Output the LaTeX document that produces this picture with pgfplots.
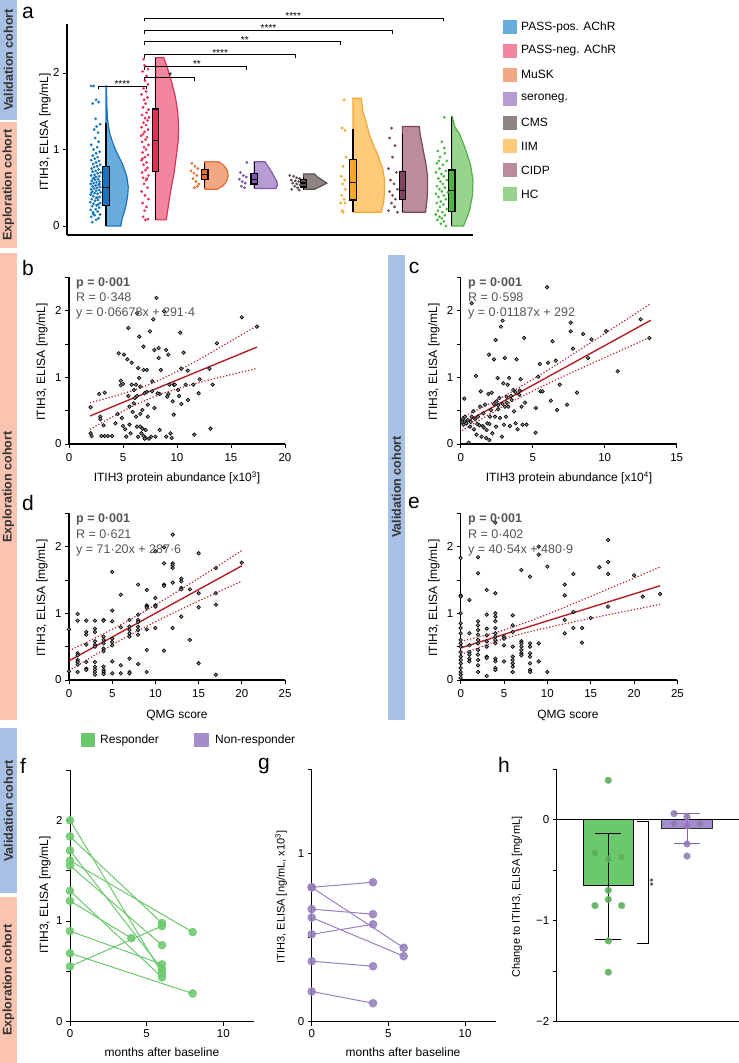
\documentclass[border=0pt]{standalone}
\usepackage{fontspec}
\setmainfont{Liberation Sans}
\usepackage{pgfplots}
\pgfplotsset{compat=1.18}
\usepgfplotslibrary{statistics}
\newcommand{\fs}[1]{\fontsize{#1}{#1}\selectfont}
\definecolor{vblue}{RGB}{168,192,228}
\definecolor{eorange}{RGB}{250,196,176}
\definecolor{c1f}{RGB}{104,172,222}\definecolor{c1d}{RGB}{25,118,190}
\definecolor{c2f}{RGB}{242,134,158}\definecolor{c2d}{RGB}{228,48,88}
\definecolor{c3f}{RGB}{242,168,132}\definecolor{c3d}{RGB}{232,108,48}
\definecolor{c4f}{RGB}{182,156,210}\definecolor{c4d}{RGB}{128,88,178}
\definecolor{c5f}{RGB}{142,132,132}\definecolor{c5d}{RGB}{88,78,78}
\definecolor{c6f}{RGB}{255,202,122}\definecolor{c6d}{RGB}{245,168,40}
\definecolor{c7f}{RGB}{186,140,156}\definecolor{c7d}{RGB}{128,68,96}
\definecolor{c8f}{RGB}{152,212,142}\definecolor{c8d}{RGB}{78,180,68}
\definecolor{resp}{RGB}{108,200,108}
\definecolor{nonr}{RGB}{165,140,205}
\definecolor{nonrd}{RGB}{130,95,180}
\definecolor{regred}{RGB}{180,30,40}
\definecolor{stat}{RGB}{85,85,85}
\pgfplotsset{
  base/.style={scale only axis, axis lines=left,
    axis line style={-, line width=1.1pt}, tick align=outside,
    major tick length=4pt, minor tick length=4pt, tick style={line width=0.9pt, black},
    ticklabel style={font=\fs{11.5}}, /pgf/number format/assume math mode=true, clip=false},
  scat/.style={base, ymin=0, ymax=2.5, ytick={0,1,2}, minor ytick={0.5,1.5,2.5},
    xticklabel style={yshift=-2pt}},
  dots/.style={only marks, mark=*, mark size=1.8pt, mark options={draw=black, fill=black!45, line width=0.6pt}},
  reg/.style={regred, line width=1.4pt, no marks},
  band/.style={regred, line width=1.2pt, dotted, no marks, smooth},
  jit/.style={only marks, mark=*, mark size=1.2pt, draw=none},
  bx/.style={draw=black, line width=1.3pt, boxplot/draw direction=y},
  fline/.style={resp, line width=1pt, mark=*, mark size=3.8pt, mark options={opacity=0.85, draw=none, fill=resp}},
  gline/.style={nonrd!80, line width=1pt, mark=*, mark size=3.8pt, mark options={opacity=0.85, draw=none, fill=nonr!90!black}},
}
\begin{document}
\begin{tikzpicture}[x=1pt,y=1pt]
\path[use as bounding box] (0,0) rectangle (739,1063);
% side boxes
\fill[vblue] (0,943) rectangle (17,1063);
\fill[eorange] (0,815) rectangle (17,941);
\fill[eorange] (0,343) rectangle (17,810);
\fill[vblue] (388,343) rectangle (405,808);
\fill[vblue] (0,170) rectangle (17,335);
\fill[eorange] (0,0) rectangle (17,166);
\begin{scope}[every node/.style={rotate=90, font=\bfseries\fs{12.5}, text=black!80}]
\node at (8.5,1003) {Validation cohort};
\node at (8.5,878) {Exploration cohort};
\node at (8.5,576) {Exploration cohort};
\node at (396.5,576) {Validation cohort};
\node at (8.5,252) {Validation cohort};
\node at (8.5,83) {Exploration cohort};
\end{scope}
% panel letters
\begin{scope}[every node/.style={font=\fs{21}, anchor=center}]
\node at (28,1050) {a};
\node at (28,795) {b};
\node at (414,795) {c};
\node at (28,560) {d};
\node at (414,560) {e};
\node at (23,297) {f};
\node at (264,297) {g};
\node at (504,298) {h};
\end{scope}
% ================= panel a
\begin{axis}[base, at={(67pt,828pt)}, anchor=south west, width=406pt, height=211pt,
  xmin=0.21, xmax=8.43, ymin=-0.1176, ymax=2.64,
  axis line style={-, line width=1.7pt}, xtick=\empty, ytick={0,1,2}]
% violins
\addplot[fill=c1f, draw=c1d, line width=1.2pt] coordinates {(1,0)(1.30,0)(1.32,0.08)(1.40,0.25)(1.44,0.4)(1.45,0.51)(1.42,0.65)(1.34,0.8)(1.19,1.0)(1.13,1.1)(1.08,1.2)(1.05,1.3)(1.03,1.4)(1.015,1.6)(1.01,1.83)(1,1.83)(1,0)};
\addplot[fill=c2f, draw=c2d, line width=1.2pt] coordinates {(2,0.08)(2.22,0.08)(2.27,0.3)(2.32,0.5)(2.38,0.7)(2.42,0.9)(2.46,1.1)(2.47,1.3)(2.45,1.5)(2.40,1.7)(2.32,1.9)(2.25,2.05)(2.17,2.2)(2,2.2)(2,0.08)};
\addplot[fill=c3f, draw=c3d, line width=1.2pt] coordinates {(3,0.48)(3.25,0.48)(3.36,0.52)(3.44,0.58)(3.47,0.65)(3.46,0.72)(3.40,0.78)(3.33,0.82)(3.28,0.84)(3,0.84)(3,0.48)};
\addplot[fill=c4f, draw=c4d, line width=1.2pt] coordinates {(4,0.49)(4.44,0.49)(4.47,0.53)(4.46,0.58)(4.40,0.65)(4.34,0.72)(4.28,0.78)(4.22,0.84)(4,0.84)(4,0.49)};
\addplot[fill=c5f, draw=c5d, line width=1.2pt] coordinates {(5,0.48)(5.22,0.48)(5.35,0.52)(5.47,0.56)(5.38,0.60)(5.28,0.64)(5.22,0.68)(5,0.68)(5,0.48)};
\addplot[fill=c6f, draw=c6d, line width=1.2pt] coordinates {(6,0.18)(6.57,0.18)(6.62,0.3)(6.64,0.45)(6.64,0.6)(6.60,0.75)(6.52,0.9)(6.42,1.05)(6.33,1.2)(6.27,1.35)(6.20,1.5)(6.17,1.67)(6,1.67)(6,0.18)};
\addplot[fill=c7f, draw=c7d, line width=1.2pt] coordinates {(7,0.18)(7.47,0.18)(7.50,0.35)(7.51,0.5)(7.51,0.65)(7.48,0.8)(7.42,1.0)(7.36,1.2)(7.34,1.3)(7,1.3)(7,0.18)};
\addplot[fill=c8f, draw=c8d, line width=1.2pt] coordinates {(8,0)(8.24,0)(8.27,0.05)(8.36,0.2)(8.42,0.4)(8.43,0.6)(8.38,0.8)(8.28,1.0)(8.16,1.2)(8.06,1.3)(8.01,1.43)(8,1.43)(8,0)};
% jittered points
\addplot[jit, c1d] coordinates {(0.72,0.05)(0.80,0.08)(0.85,0.10)(0.70,0.12)(0.77,0.14)(0.88,0.15)(0.74,0.18)(0.83,0.19)(0.69,0.21)(0.79,0.22)(0.86,0.24)(0.72,0.26)(0.81,0.27)(0.75,0.29)(0.88,0.30)(0.68,0.31)(0.78,0.33)(0.84,0.34)(0.71,0.35)(0.80,0.37)(0.87,0.38)(0.74,0.39)(0.69,0.41)(0.83,0.42)(0.77,0.43)(0.89,0.44)(0.72,0.45)(0.80,0.46)(0.86,0.47)(0.70,0.48)(0.76,0.49)(0.82,0.50)(0.88,0.51)(0.73,0.52)(0.79,0.53)(0.85,0.54)(0.69,0.55)(0.75,0.56)(0.81,0.57)(0.87,0.58)(0.71,0.59)(0.78,0.60)(0.84,0.61)(0.74,0.62)(0.80,0.64)(0.86,0.65)(0.70,0.66)(0.77,0.67)(0.83,0.69)(0.89,0.70)(0.73,0.71)(0.79,0.72)(0.85,0.74)(0.71,0.75)(0.76,0.77)(0.82,0.78)(0.88,0.80)(0.74,0.81)(0.80,0.83)(0.86,0.85)(0.70,0.86)(0.77,0.88)(0.83,0.90)(0.73,0.92)(0.80,0.95)(0.87,0.97)(0.75,1.00)(0.82,1.03)(0.70,1.06)(0.85,1.10)(0.78,1.15)(0.84,1.22)(0.76,1.26)(0.81,1.30)(0.88,1.33)(0.79,1.40)(0.73,1.60)(0.85,1.62)(0.80,1.65)(0.70,1.83)(0.75,1.83)(0.74,0.16)(0.84,0.28)(0.71,0.44)(0.87,0.55)(0.76,0.63)(0.82,0.37)};
\addplot[jit, c2d] coordinates {(1.80,0.08)(1.85,0.09)(1.75,0.12)(1.78,0.2)(1.82,0.25)(1.74,0.3)(1.86,0.35)(1.79,0.4)(1.72,0.45)(1.84,0.5)(1.77,0.55)(1.81,0.6)(1.75,0.63)(1.86,0.66)(1.73,0.7)(1.80,0.73)(1.84,0.76)(1.76,0.8)(1.82,0.83)(1.72,0.86)(1.79,0.9)(1.85,0.93)(1.74,0.96)(1.81,1.0)(1.77,1.03)(1.86,1.06)(1.73,1.1)(1.80,1.13)(1.83,1.16)(1.75,1.2)(1.78,1.23)(1.85,1.26)(1.72,1.29)(1.81,1.32)(1.76,1.35)(1.84,1.38)(1.79,1.41)(1.73,1.45)(1.82,1.48)(1.86,1.52)(1.75,1.55)(1.80,1.6)(1.77,1.65)(1.84,1.68)(1.72,1.72)(1.81,1.76)(1.76,1.8)(1.85,1.85)(1.79,1.9)(1.82,1.96)(1.74,2.02)(1.85,2.05)(1.78,2.1)(1.76,2.18)(1.83,0.62)(1.71,1.18)(1.87,1.42)(1.74,0.88)};
\addplot[jit, c3d] coordinates {(2.74,0.82)(2.80,0.78)(2.86,0.75)(2.72,0.72)(2.78,0.69)(2.84,0.66)(2.76,0.62)(2.82,0.58)(2.88,0.55)(2.79,0.5)(2.85,0.52)};
\addplot[jit, c4d] coordinates {(3.85,0.83)(3.72,0.7)(3.78,0.66)(3.84,0.64)(3.70,0.61)(3.76,0.58)(3.82,0.56)(3.74,0.52)(3.80,0.5)};
\addplot[jit, c5d] coordinates {(4.72,0.66)(4.80,0.65)(4.86,0.63)(4.92,0.62)(4.75,0.6)(4.83,0.59)(4.90,0.58)(4.78,0.56)(4.86,0.55)(4.93,0.54)(4.82,0.52)(4.88,0.5)(4.76,0.48)(4.91,0.47)};
\addplot[jit, c6d] coordinates {(5.82,1.65)(5.78,1.28)(5.84,1.25)(5.86,0.9)(5.80,0.78)(5.76,0.65)(5.83,0.6)(5.79,0.55)(5.85,0.48)(5.77,0.4)(5.82,0.35)(5.75,0.3)(5.84,0.3)(5.78,0.2)(5.80,0.18)};
\addplot[jit, c7d] coordinates {(6.78,1.28)(6.74,1.15)(6.85,1.05)(6.80,0.9)(6.72,0.75)(6.88,0.7)(6.76,0.6)(6.83,0.55)(6.90,0.48)(6.74,0.45)(6.80,0.4)(6.86,0.35)(6.78,0.3)(6.84,0.25)(6.72,0.2)(6.90,0.18)};
\addplot[jit, c8d] coordinates {(7.85,1.42)(7.80,1.1)(7.72,0.98)(7.86,0.95)(7.76,0.9)(7.90,0.85)(7.70,0.82)(7.82,0.8)(7.75,0.75)(7.88,0.72)(7.68,0.7)(7.79,0.68)(7.84,0.65)(7.73,0.62)(7.90,0.6)(7.77,0.58)(7.82,0.55)(7.70,0.52)(7.86,0.5)(7.75,0.48)(7.80,0.45)(7.92,0.44)(7.68,0.42)(7.84,0.4)(7.73,0.38)(7.88,0.35)(7.78,0.32)(7.70,0.3)(7.83,0.28)(7.76,0.25)(7.90,0.22)(7.72,0.2)(7.81,0.18)(7.68,0.15)(7.86,0.14)(7.75,0.12)(7.80,0.1)(7.71,0.08)(7.84,0.06)(7.78,0.03)(7.88,0.0)(7.74,0.85)(7.85,1.02)};
% boxes
\addplot[bx, fill=c1d, boxplot prepared={draw position=1, lower whisker=0, lower quartile=0.27, median=0.5, upper quartile=0.78, upper whisker=1.35, box extend=0.13, whisker extend=0}] coordinates {};
\addplot[bx, fill=c2d, boxplot prepared={draw position=2, lower whisker=0.08, lower quartile=0.71, median=1.12, upper quartile=1.53, upper whisker=2.2, box extend=0.13, whisker extend=0}] coordinates {};
\addplot[bx, fill=c3d, boxplot prepared={draw position=3, lower whisker=0.5, lower quartile=0.61, median=0.67, upper quartile=0.74, upper whisker=0.82, box extend=0.13, whisker extend=0}] coordinates {};
\addplot[bx, fill=c4d, boxplot prepared={draw position=4, lower whisker=0.5, lower quartile=0.55, median=0.61, upper quartile=0.69, upper whisker=0.83, box extend=0.13, whisker extend=0}] coordinates {};
\addplot[bx, fill=c5d, boxplot prepared={draw position=5, lower whisker=0.47, lower quartile=0.51, median=0.56, upper quartile=0.61, upper whisker=0.64, box extend=0.13, whisker extend=0}] coordinates {};
\addplot[bx, fill=c6d, boxplot prepared={draw position=6, lower whisker=0.18, lower quartile=0.34, median=0.57, upper quartile=0.87, upper whisker=1.27, box extend=0.13, whisker extend=0}] coordinates {};
\addplot[bx, fill=c7d, boxplot prepared={draw position=7, lower whisker=0.18, lower quartile=0.35, median=0.46, upper quartile=0.71, upper whisker=1.2, box extend=0.13, whisker extend=0}] coordinates {};
\addplot[bx, fill=c8d, boxplot prepared={draw position=8, lower whisker=0, lower quartile=0.19, median=0.46, upper quartile=0.73, upper whisker=1.42, box extend=0.13, whisker extend=0}] coordinates {};
% significance brackets
\begin{scope}[line width=0.7pt]
\draw (0.84,1.785) -- (0.84,1.83) -- (1.82,1.83) -- (1.82,1.785);
\draw (1.77,1.895) -- (1.77,1.94) -- (2.79,1.94) -- (2.79,1.895);
\draw (1.77,2.045) -- (1.77,2.09) -- (3.85,2.09) -- (3.85,2.045);
\draw (1.77,2.195) -- (1.77,2.24) -- (4.83,2.24) -- (4.83,2.195);
\draw (1.77,2.365) -- (1.77,2.41) -- (5.75,2.41) -- (5.75,2.365);
\draw (1.77,2.515) -- (1.77,2.56) -- (6.80,2.56) -- (6.80,2.515);
\draw (1.77,2.675) -- (1.77,2.72) -- (7.82,2.72) -- (7.82,2.675);
\end{scope}
\begin{scope}[every node/.style={font=\fs{10}, anchor=south, inner sep=0.5pt}]
\node at (1.33,1.80) {****};
\node at (2.30,1.91) {*};
\node at (2.84,2.06) {**};
\node at (3.31,2.21) {****};
\node at (3.81,2.38) {**};
\node at (4.29,2.53) {****};
\node at (4.79,2.69) {****};
\end{scope}
\end{axis}
\node[rotate=90, font=\fs{12}] at (45,931) {ITIH3, ELISA [mg/mL]};
% legend a
\foreach \c/\t [count=\i from 0] in {c1f/PASS-pos. AChR, c2f/PASS-neg. AChR, c3f/MuSK, c4f/seroneg., c5f/CMS, c6f/IIM, c7f/CIDP, c8f/HC}{
  \fill[\c] (503,{1036-23.9*\i-7}) rectangle (517,{1036-23.9*\i+7});
  \node[anchor=west, font=\fs{12}, inner sep=0pt] at (521,{1036-23.9*\i}) {\t};
}
% ================= panel b
\begin{axis}[scat, at={(69pt,619pt)}, anchor=south west, width=216pt, height=166.7pt, xmin=0, xmax=20, xtick={0,5,10,15,20}]
\addplot[dots] coordinates {(2.0,0.55)(2.0,0.16)(2.1,0.12)(2.8,0.75)(3.3,0.77)(2.9,0.41)(2.9,0.37)(3.2,0.28)(3.0,0.12)(3.3,0.12)(3.6,0.12)(4.0,0.12)(4.3,0.31)(4.6,1.36)(4.8,0.88)(4.8,0.95)(4.9,0.39)(5.0,0.27)(5.1,1.34)(5.4,1.27)(5.2,0.22)(5.3,0.11)(5.5,1.74)(5.5,0.72)(5.6,0.56)(5.6,0.29)(5.7,0.16)(5.8,1.22)(5.8,0.89)(6.0,0.81)(6.1,0.69)(6.2,0.41)(6.3,1.96)(6.3,0.26)(6.4,0.11)(6.4,1.14)(6.5,1.61)(6.5,0.99)(6.6,0.86)(6.6,0.26)(6.7,0.16)(6.8,0.51)(6.9,1.46)(6.9,1.11)(7.0,0.76)(7.1,0.21)(7.1,0.09)(7.2,1.11)(7.3,0.59)(7.3,0.41)(7.5,1.69)(7.6,0.11)(7.7,0.79)(7.7,0.94)(7.8,1.87)(7.9,1.41)(7.9,0.54)(8.0,0.11)(8.1,2.19)(8.3,1.29)(8.3,1.44)(8.4,0.75)(8.4,0.21)(8.5,1.11)(8.8,1.99)(9.0,1.41)(9.0,0.11)(9.2,1.34)(9.2,0.75)(9.3,0.89)(9.4,0.16)(9.5,0.09)(9.6,0.64)(9.7,0.44)(9.7,0.89)(10.1,0.81)(10.2,0.72)(10.3,1.67)(10.4,0.60)(10.4,1.13)(10.6,1.37)(10.8,0.89)(11.0,1.10)(11.0,0.66)(11.5,0.89)(11.6,0.14)(12.0,0.76)(12.1,0.97)(13.0,1.13)(13.1,0.23)(13.3,0.89)(13.7,1.51)(16.0,1.90)(17.4,1.76)(6.0,0.61)(6.2,0.89)(5.9,0.48)(6.8,0.23)(7.0,0.08)(7.4,0.08)(6.9,0.12)(6.6,0.45)(7.2,0.78)(8.2,0.76)(9.1,0.71)(9.8,0.89)(4.5,0.45)(5.0,0.9)(6.3,0.72)};
\addplot[reg] coordinates {(1.94,0.42)(17.4,1.453)};
\addplot[band] coordinates {(1.94,0.62)(4,0.708)(6,0.807)(8,0.931)(10,1.089)(12,1.265)(14,1.451)(17.4,1.773)};
\addplot[band] coordinates {(1.94,0.22)(4,0.406)(6,0.575)(8,0.717)(10,0.827)(12,0.919)(14,1.001)(17.4,1.133)};
\end{axis}
% ================= panel c
\begin{axis}[scat, at={(460.7pt,619pt)}, anchor=south west, width=216pt, height=166.7pt, xmin=0, xmax=15, xtick={0,5,10,15}]
\addplot[dots] coordinates {(0.25,0.68)(0.76,2.11)(1.06,1.02)(0.3,0.41)(0.25,0.34)(0.4,0.31)(0.55,0.02)(0.65,0.26)(0.76,0.41)(0.88,0.49)(0.92,0.22)(1.1,0.14)(1.15,0.3)(1.2,0.41)(1.34,0.56)(1.39,0.79)(1.45,0.11)(1.52,0.27)(1.57,0.46)(1.69,0.59)(1.76,0.09)(1.8,0.21)(1.85,0.31)(1.92,0.75)(1.96,1.34)(1.99,0.06)(2.03,0.41)(2.1,0.51)(2.15,0.77)(2.2,0.16)(2.31,1.27)(2.38,0.41)(2.42,1.56)(2.45,0.26)(2.49,0.64)(2.56,0.99)(2.6,0.52)(2.68,0.69)(2.73,0.39)(2.79,1.76)(2.86,0.11)(2.91,1.85)(2.96,0.91)(3.0,0.29)(3.07,1.29)(3.07,0.56)(3.14,0.41)(3.19,0.71)(3.26,0.89)(3.3,0.56)(3.37,0.99)(3.42,0.27)(3.53,0.66)(3.65,0.81)(3.7,0.49)(3.81,0.31)(3.88,1.27)(3.95,0.22)(4.06,0.74)(4.16,0.97)(4.23,0.56)(4.3,0.29)(4.41,1.59)(4.46,0.62)(4.57,0.29)(5.22,0.54)(5.2,0.17)(5.38,1.01)(5.5,1.2)(5.54,0.79)(5.68,0.79)(6.0,2.35)(6.07,1.22)(6.26,0.65)(6.38,1.54)(6.6,1.25)(6.7,0.51)(6.88,0.89)(7.39,0.59)(7.64,1.82)(7.64,1.69)(7.8,1.43)(8.08,0.77)(8.5,1.65)(8.85,1.29)(9.08,1.57)(10.1,1.69)(10.9,1.09)(12.5,1.87)(13.1,1.59)(0.1,0.33)(0.15,0.38)(0.2,0.29)(0.5,0.36)(0.7,0.33)(1.0,0.37)(1.3,0.28)(1.6,0.25)(2.0,0.3)(2.3,0.6)(2.6,0.58)(2.9,0.6)(3.2,0.62)(3.5,0.72)(3.8,0.78)(4.1,0.8)};
\addplot[reg] coordinates {(0.1,0.30)(13.2,1.855)};
\addplot[band] coordinates {(0.1,0.40)(2,0.602)(3,0.717)(4,0.840)(6,1.101)(8,1.376)(10,1.655)(13.2,2.105)};
\addplot[band] coordinates {(0.1,0.20)(2,0.448)(3,0.571)(4,0.686)(6,0.899)(8,1.100)(10,1.295)(13.2,1.605)};
\end{axis}
% ================= panel d
\begin{axis}[scat, at={(69pt,383pt)}, anchor=south west, width=216pt, height=166.7pt, xmin=0, xmax=25, xtick={0,5,10,15,20,25}]
\addplot[dots] coordinates {(0,0.76)(0,0.13)(1,0.99)(1,0.89)(1,0.4)(1,0.37)(1,0.3)(1,0.27)(1,0.23)(1,0.12)(2,0.89)(2,0.72)(2,0.68)(2,0.53)(2,0.27)(2,0.17)(2,0.15)(3,0.89)(3,0.77)(3,0.72)(3,0.58)(3,0.53)(3,0.5)(3,0.27)(3,0.2)(3,0.16)(3,0.12)(3,0.08)(4,0.9)(4,0.89)(4,0.65)(4,0.6)(4,0.55)(4,0.47)(4,0.43)(4,0.2)(4,0.15)(4,0.12)(4,0.09)(5,1.62)(5,1.04)(5,0.88)(5,0.62)(5,0.57)(5,0.52)(5,0.28)(5,0.1)(6,1.28)(6,0.79)(6,0.22)(6,0.1)(7,0.9)(7,0.8)(7,0.75)(7,0.7)(7,0.65)(7,0.32)(7,0.12)(7,0.1)(8,1.43)(8,0.98)(8,0.9)(8,0.87)(8,0.8)(8,0.75)(8,0.68)(8,0.24)(9,1.35)(9,1.12)(9,1.1)(9,1.08)(9,0.76)(9,0.45)(9,0.12)(10,1.93)(10,1.23)(10,1.12)(10,1.1)(10,0.78)(11,1.99)(11,1.75)(11,1.43)(11,1.41)(11,0.44)(12,2.18)(12,1.75)(12,1.72)(12,1.68)(12,1.46)(12,0.78)(13,1.52)(13,1.48)(13,1.38)(13,1.36)(13,0.95)(14,1.36)(14,0.6)(15,1.9)(15,1.3)(15,1.09)(15,0.25)(17,1.68)(17,1.3)(17,1.13)(17,0.08)(20,1.76)};
\addplot[reg] coordinates {(0,0.288)(20,1.712)};
\addplot[band] coordinates {(0,0.438)(3,0.627)(6.5,0.865)(10,1.125)(14,1.444)(17,1.691)(20,1.942)};
\addplot[band] coordinates {(0,0.138)(3,0.375)(6.5,0.635)(10,0.873)(14,1.124)(17,1.305)(20,1.482)};
\end{axis}
% ================= panel e
\begin{axis}[scat, at={(460.7pt,383pt)}, anchor=south west, width=216.7pt, height=166.7pt, xmin=0, xmax=25, xtick={0,5,10,15,20,25}]
\addplot[dots] coordinates {(0,1.83)(0,1.27)(0,1.25)(0,1.0)(0,0.85)(0,0.78)(0,0.7)(0,0.6)(0,0.55)(0,0.5)(0,0.42)(0,0.35)(0,0.3)(0,0.25)(0,0.18)(0,0.12)(0,0.08)(0,0.03)(1,1.2)(1,0.7)(1,0.52)(1,0.42)(1,0.38)(1,0.32)(1,0.28)(2,1.84)(2,1.6)(2,0.88)(2,0.82)(2,0.75)(2,0.68)(2,0.6)(2,0.55)(2,0.45)(2,0.38)(2,0.3)(2,0.22)(2,0.12)(3,1.35)(3,0.98)(3,0.77)(3,0.67)(3,0.58)(3,0.5)(3,0.35)(3,0.33)(3,0.06)(4,2.36)(4,1.3)(4,1.0)(4,0.95)(4,0.88)(4,0.78)(4,0.7)(4,0.65)(4,0.6)(4,0.55)(4,0.32)(4,0.28)(4,0.18)(4,0.15)(5,0.65)(5,0.62)(5,0.52)(5,0.28)(6,0.97)(6,0.82)(6,0.72)(6,0.5)(6,0.35)(6,0.3)(6,0.25)(6,0.2)(6,0.12)(7,1.65)(7,0.58)(7,0.55)(7,0.5)(7,0.45)(7,0.4)(7,0.37)(8,1.55)(8,0.55)(8,0.5)(8,0.4)(8,0.35)(8,0.25)(8,0.15)(8,0.12)(9,2.0)(9,1.88)(9,0.55)(9,0.28)(10,1.7)(10,0.12)(12,1.43)(12,1.27)(12,0.9)(12,0.7)(13,1.59)(13,1.02)(13,0.78)(14,0.78)(14,0.56)(15,0.93)(16,1.69)(17,2.1)(17,1.77)(17,1.59)(17,1.1)(20,1.57)(21,1.25)(23,1.29)};
\addplot[reg] coordinates {(0,0.481)(23,1.413)};
\addplot[band] coordinates {(0,0.581)(2.5,0.658)(5,0.749)(8,0.885)(12,1.091)(16,1.309)(20,1.528)(23,1.693)};
\addplot[band] coordinates {(0,0.381)(2.5,0.506)(5,0.619)(8,0.725)(12,0.843)(16,0.951)(20,1.056)(23,1.133)};
\end{axis}
% labels b-e
\begin{scope}[every node/.style={font=\fs{12}}]
\node[rotate=90] at (42,701) {ITIH3, ELISA [mg/mL]};
\node[rotate=90] at (434,701) {ITIH3, ELISA [mg/mL]};
\node[rotate=90] at (42,465) {ITIH3, ELISA [mg/mL]};
\node[rotate=90] at (434,465) {ITIH3, ELISA [mg/mL]};
\node at (177,585) {ITIH3 protein abundance [x10\textsuperscript{3}]};
\node at (569,585) {ITIH3 protein abundance [x10\textsuperscript{4}]};
\node at (177,348) {QMG score};
\node at (568,348) {QMG score};
\end{scope}
\begin{scope}[every node/.style={font=\fs{12.5}, text=stat, anchor=west, inner sep=0pt}]
\node[font=\bfseries\fs{12.5}] at (76,780) {p = 0·001};
\node at (76,766) {R = 0·348};
\node at (76,750) {y = 0·06678x + 291·4};
\node[font=\bfseries\fs{12.5}] at (468,780) {p = 0·001};
\node at (468,766) {R = 0·598};
\node at (468,750) {y = 0·01187x + 292};
\node[font=\bfseries\fs{12.5}] at (76,544) {p = 0·001};
\node at (76,529) {R = 0·621};
\node at (76,513) {y = 71·20x + 287·6};
\node[font=\bfseries\fs{12.5}] at (468,544) {p = 0·001};
\node at (468,529) {R = 0·402};
\node at (468,513) {y = 40·54x + 480·9};
\end{scope}
% ================= panel f
\begin{axis}[base, at={(70pt,41.3pt)}, anchor=south west, width=184pt, height=251.7pt, xmin=0, xmax=12, ymin=0, ymax=2.5,
  xtick={0,5,10}, ytick={0,1,2}, minor ytick={0.5,1.5,2.5}, axis line style={-, line width=1pt}]
\addplot[fline] coordinates {(0,2.00)(6,0.48)};
\addplot[fline] coordinates {(0,1.84)(6,0.98)};
\addplot[fline] coordinates {(0,1.70)(6,0.52)};
\addplot[fline] coordinates {(0,1.60)(8,0.89)};
\addplot[fline] coordinates {(0,1.55)(6,0.76)};
\addplot[fline] coordinates {(0,1.30)(6,0.44)};
\addplot[fline] coordinates {(0,1.20)(4,0.83)};
\addplot[fline] coordinates {(0,0.90)(6,0.57)};
\addplot[fline] coordinates {(0,0.68)(8,0.28)};
\addplot[fline] coordinates {(0,0.55)(6,0.95)};
\end{axis}
% ================= panel g
\begin{axis}[base, at={(311.7pt,41.3pt)}, anchor=south west, width=184pt, height=252pt, xmin=0, xmax=12, ymin=0, ymax=1.5,
  xtick={0,5,10}, ytick={0,1}, minor ytick={0.5,1.5}, axis line style={-, line width=1pt}]
\addplot[gline] coordinates {(0,0.80)(4,0.83)};
\addplot[gline] coordinates {(0,0.80)(6,0.44)};
\addplot[gline] coordinates {(0,0.67)(4,0.64)};
\addplot[gline] coordinates {(0,0.62)(6,0.39)};
\addplot[gline] coordinates {(0,0.52)(4,0.58)};
\addplot[gline] coordinates {(0,0.36)(4,0.33)};
\addplot[gline] coordinates {(0,0.18)(4,0.11)};
\end{axis}
% ================= panel h
\begin{axis}[base, at={(556.7pt,41.3pt)}, anchor=south west, width=182.3pt, height=252.5pt, xmin=0, xmax=182.3, ymin=-2, ymax=0.5,
  xtick=\empty, ytick={-2,-1,0}, yticklabels={−2,−1,0}, minor ytick={-1.5,-0.5,0.5}, axis line style={-, line width=1pt}]
\addplot[ybar, bar width=50, fill=resp, draw=black, line width=0.9pt] coordinates {(51.6,-0.653)};
\addplot[ybar, bar width=50.6, fill=nonr, draw=black!80, line width=0.9pt] coordinates {(130.3,-0.083)};
\addplot[resp, only marks, mark=*, mark size=3.4pt, mark options={draw=none, fill=resp!86!black, opacity=0.9}] coordinates {(51.6,0.39)(38.3,-0.33)(51.6,-0.39)(64.9,-0.37)(51.6,-0.70)(51.6,-0.79)(38.3,-0.85)(64.9,-0.85)(51.6,-1.2)(51.6,-1.51)};
\addplot[nonr, only marks, mark=*, mark size=3.4pt, mark options={draw=none, fill=nonr!85!black, opacity=0.85}] coordinates {(117.3,0.06)(130.3,0.03)(117.3,-0.04)(130.3,-0.06)(143.3,-0.04)(130.3,-0.24)(130.3,-0.36)};
\addplot[black, line width=1pt, no marks] coordinates {(51.6,-0.14)(51.6,-1.19)};
\addplot[black, line width=1pt, no marks] coordinates {(38.6,-0.14)(64.6,-0.14)};
\addplot[black, line width=1pt, no marks] coordinates {(38.6,-1.19)(64.6,-1.19)};
\addplot[nonrd, line width=1pt, no marks] coordinates {(130.3,0.06)(130.3,-0.24)};
\addplot[nonrd, line width=1pt, no marks] coordinates {(117.3,0.06)(143.3,0.06)};
\addplot[nonrd, line width=1pt, no marks] coordinates {(117.3,-0.24)(143.3,-0.24)};
\draw[line width=0.9pt] (0,0) -- (182.3,0);
\draw[line width=0.8pt] (80.6,-0.02) -- (91.6,-0.02) -- (91.6,-1.22) -- (80.6,-1.22);
\node[rotate=90, font=\fs{10}] at (96.6,-0.62) {**};
\end{axis}
% labels f-h
\begin{scope}[every node/.style={font=\fs{12}}]
\node[rotate=90] at (45,168) {ITIH3, ELISA [mg/mL]};
\node[rotate=90, font=\fs{11}] at (281,166) {ITIH3, ELISA [ng/mL, x10\textsuperscript{3}]};
\node[rotate=90, font=\fs{11}] at (517,166) {Change to ITIH3, ELISA [mg/mL]};
\node at (162,11) {months after baseline};
\node at (403,11) {months after baseline};
\end{scope}
% legend f/g
\fill[resp] (81,316) rectangle (95,330);
\node[anchor=west, font=\fs{12}, inner sep=0pt] at (100,323) {Responder};
\fill[nonr] (194,316) rectangle (209,330);
\node[anchor=west, font=\fs{12}, inner sep=0pt] at (215,323) {Non-responder};
\end{tikzpicture}
\end{document}
